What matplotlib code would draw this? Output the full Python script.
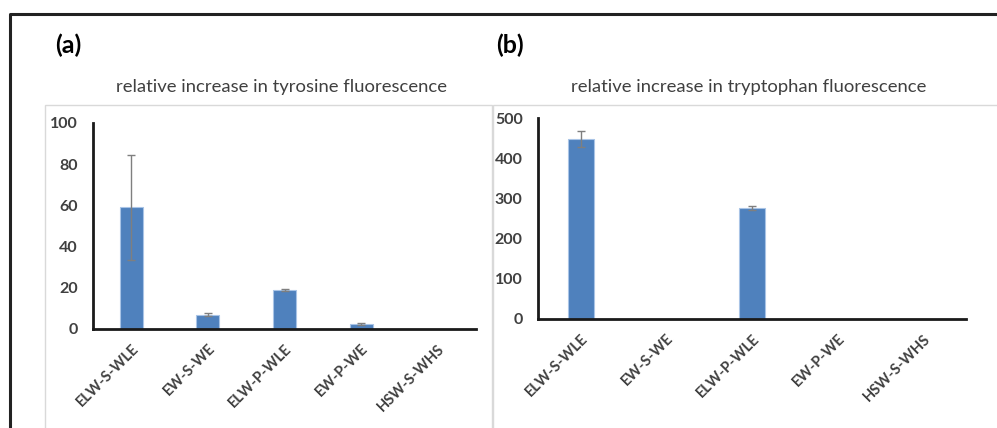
import numpy as np
import matplotlib
matplotlib.use("Agg")
import matplotlib.pyplot as plt
from matplotlib.lines import Line2D
from matplotlib.patches import Rectangle

plt.rcParams['font.family'] = ['Lato', 'DejaVu Sans']

samples = ["ELW-S-WLE", "EW-S-WE", "ELW-P-WLE", "EW-P-WE", "HSW-S-WHS"]
tyr_vals = [59.2, 6.9, 18.9, 2.4, 0.0]
tyr_err = [25.5, 0.7, 0.4, 0.3, 0.0]
trp_vals = [448, 0, 276, 0, 0]
trp_err = [20, 0, 5, 0, 0]

W, H = 997, 428
fig = plt.figure(figsize=(W / 100, H / 100), dpi=100)

def px(x0, y0, x1, y1):
    return [x0 / W, 1 - y1 / H, (x1 - x0) / W, (y1 - y0) / H]

# outer frame (top + left only) and light panel boxes
fig.add_artist(Line2D([9.5 / W, 9.5 / W, 1], [0, 1 - 14 / H, 1 - 14 / H],
                      color='#222222', lw=2.2, transform=fig.transFigure))
for x0, x1 in [(45, 492), (493, 1000)]:
    fig.add_artist(Rectangle((x0 / W, -0.01), (x1 - x0) / W, 1 - 105 / H + 0.01,
                             fill=False, ec='#d9d9d9', lw=1, transform=fig.transFigure))

def panel(rect, vals, errs, ymax, step, bw):
    ax = fig.add_axes(rect)
    x = np.arange(len(samples))
    vals = np.array(vals, dtype=float)
    errs = np.array(errs, dtype=float)
    nz = vals > 0
    ax.bar(x[nz], vals[nz], width=bw, color='#4f81bd', edgecolor='#a9c4e6', lw=0.8, zorder=2)
    ok = errs > 0
    ax.errorbar(x[ok], vals[ok], yerr=errs[ok], fmt='none', ecolor='#7f7f7f', elinewidth=1,
                capsize=3, capthick=1, zorder=3)
    ax.set_xlim(-0.5, len(samples) - 0.5)
    ax.set_ylim(0, ymax)
    ax.set_yticks(np.arange(0, ymax + 1, step))
    ax.set_xticks(x)
    ax.set_xticklabels(samples, rotation=45, ha='right', rotation_mode='anchor',
                       fontsize=10.5, fontweight='bold', color='#404040')
    for lab in ax.get_yticklabels():
        lab.set_fontsize(11.5)
        lab.set_fontweight('bold')
        lab.set_color('#404040')
    ax.tick_params(axis='both', length=0)
    ax.tick_params(axis='x', pad=9)
    ax.tick_params(axis='y', pad=11)
    for s in ['top', 'right']:
        ax.spines[s].set_visible(False)
    for s in ['left', 'bottom']:
        ax.spines[s].set_linewidth(2)
        ax.spines[s].set_color('#1a1a1a')
    ax.patch.set_alpha(0)
    return ax

panel(px(93, 123, 476, 329), tyr_vals, tyr_err, 100, 20, 0.3)
panel(px(538, 118, 966, 319), trp_vals, trp_err, 500, 100, 0.31)

fig.text(55 / W, 1 - 45 / H, "(a)", fontsize=18, fontweight='bold', va='center', ha='left')
fig.text(496 / W, 1 - 45 / H, "(b)", fontsize=18, fontweight='bold', va='center', ha='left')
fig.text(281 / W, 1 - 87 / H, "relative increase in tyrosine fluorescence",
         fontsize=13.3, color='#404040', ha='center', va='center')
fig.text(749 / W, 1 - 87 / H, "relative increase in tryptophan fluorescence",
         fontsize=13.3, color='#404040', ha='center', va='center')

fig.savefig("out.png", dpi=100)
